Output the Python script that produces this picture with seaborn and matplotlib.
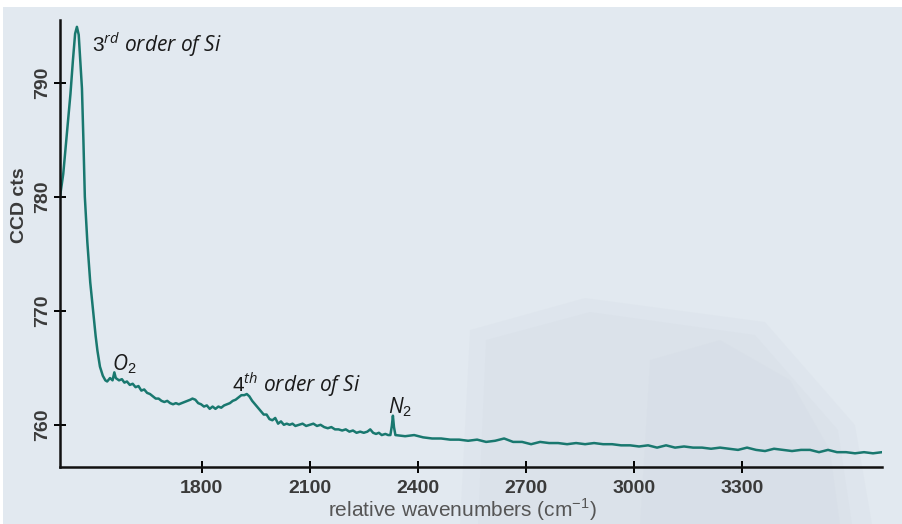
import pandas as pd
import matplotlib
matplotlib.use('Agg')
import matplotlib.pyplot as plt
from matplotlib.patches import Rectangle, Polygon
import seaborn as sns

# spectrum (relative wavenumber, CCD counts)
WAVENUMBERS = [
  1406, 1415, 1425, 1435, 1442, 1448, 1453, 1458, 1463, 1467, 1471, 1475,
  1482, 1490, 1498, 1505, 1510, 1517, 1525, 1532, 1537, 1545, 1552, 1557,
  1561, 1570, 1578, 1585, 1592, 1600, 1608, 1616, 1624, 1632, 1640, 1648,
  1656, 1664, 1672, 1680, 1688, 1696, 1704, 1712, 1720, 1728, 1736, 1744,
  1752, 1760, 1768, 1774, 1782, 1790, 1798, 1806, 1814, 1822, 1830, 1838,
  1846, 1854, 1862, 1870, 1878, 1886, 1894, 1902, 1910, 1918, 1925, 1932,
  1940, 1948, 1956, 1964, 1972, 1980, 1988, 1996, 2004, 2012, 2020, 2028,
  2036, 2044, 2052, 2060, 2070, 2080, 2090, 2100, 2110, 2120, 2130, 2140,
  2150, 2160, 2170, 2180, 2190, 2200, 2210, 2220, 2230, 2240, 2250, 2260,
  2268, 2276, 2284, 2292, 2300, 2310, 2318, 2324, 2328, 2331, 2334, 2338,
  2365, 2390, 2415, 2440, 2465, 2490, 2515, 2540, 2565, 2590, 2615, 2640,
  2665, 2690, 2715, 2740, 2765, 2790, 2815, 2840, 2865, 2890, 2915, 2940,
  2965, 2990, 3015, 3040, 3065, 3090, 3115, 3140, 3165, 3190, 3215, 3240,
  3265, 3290, 3315, 3340, 3365, 3390, 3415, 3440, 3465, 3490, 3515, 3540,
  3565, 3590, 3615, 3640, 3665, 3690,
]
COUNTS = [
  780.0, 782.0, 785.5, 789.0, 792.0, 794.3, 794.9, 794.2, 791.5, 789.5, 785.0, 780.0,
  776.0, 772.5, 770.0, 767.8, 766.5, 765.1, 764.3, 763.9, 763.8, 764.1, 763.9, 764.6,
  764.1, 763.9, 764.0, 763.7, 763.8, 763.5, 763.6, 763.3, 763.4, 763.0, 763.1, 762.8,
  762.7, 762.5, 762.3, 762.3, 762.1, 762.0, 762.1, 761.9, 761.8, 761.9, 761.8, 761.9,
  762.0, 762.1, 762.2, 762.3, 762.2, 761.9, 761.8, 761.6, 761.7, 761.4, 761.6, 761.4,
  761.6, 761.5, 761.7, 761.8, 761.9, 762.1, 762.2, 762.4, 762.6, 762.6, 762.7, 762.5,
  762.1, 761.8, 761.5, 761.2, 760.9, 760.9, 760.5, 760.4, 760.6, 760.1, 760.3, 760.0,
  760.1, 760.0, 760.1, 759.9, 760.0, 760.1, 759.9, 760.0, 760.1, 759.9, 760.0, 759.8,
  759.7, 759.8, 759.6, 759.6, 759.5, 759.6, 759.4, 759.5, 759.3, 759.4, 759.3, 759.4,
  759.6, 759.3, 759.2, 759.3, 759.1, 759.2, 759.1, 759.1, 759.9, 760.8, 759.8, 759.1,
  759.0, 759.1, 758.9, 758.8, 758.8, 758.7, 758.7, 758.6, 758.7, 758.5, 758.6, 758.8,
  758.5, 758.5, 758.3, 758.5, 758.4, 758.4, 758.3, 758.4, 758.3, 758.4, 758.3, 758.3,
  758.2, 758.2, 758.1, 758.2, 758.0, 758.2, 758.0, 758.1, 758.0, 758.0, 757.9, 758.0,
  757.9, 757.8, 758.0, 757.8, 757.7, 757.9, 757.8, 757.7, 757.8, 757.8, 757.6, 757.8,
  757.6, 757.6, 757.5, 757.6, 757.5, 757.6,
]

X_TICKS = [1800, 2100, 2400, 2700, 3000, 3300]
Y_TICKS = [760, 770, 780, 790]

# peak labels: (text, wavenumber, counts)
PEAK_LABELS = [
  (r'$\mathit{3}^{\mathit{rd}}$ order of Si', 1495, 792.7),
  (r'O$_{\mathit{2}}$', 1550, 764.8),
  (r'$\mathit{4}^{\mathit{th}}$ order of Si', 1884, 762.9),
  (r'N$_{\mathit{2}}$', 2317, 761.0),
]

LINE_COLOR = '#19786f'
BG_COLOR = '#e2e9f0'
TEXT_COLOR = '#3a3a3a'

sns.set_style('ticks')
plt.rcParams['font.family'] = ['Liberation Sans', 'DejaVu Sans']
plt.rcParams['mathtext.fontset'] = 'custom'
plt.rcParams['mathtext.rm'] = 'Liberation Sans'
plt.rcParams['mathtext.it'] = 'Open Sans:italic'

df = pd.DataFrame({'wavenumber': WAVENUMBERS, 'counts': COUNTS})

fig = plt.figure(figsize=(9.02, 5.24), dpi=100, facecolor='white')

# light panel behind the chart with a faint, soft instrument silhouette
fig.patches.append(Rectangle((3 / 902, 0), 1, 1 - 7 / 524, transform=fig.transFigure,
                             facecolor=BG_COLOR, edgecolor='none', zorder=-10))
silhouettes = [
  [(460, 524), (470, 330), (585, 298), (765, 322), (855, 425), (872, 524)],
  [(478, 524), (486, 340), (590, 312), (755, 335), (838, 430), (852, 524)],
  [(640, 524), (650, 360), (720, 340), (790, 380), (830, 450), (840, 524)],
]
for shape in silhouettes:
  fig.patches.append(Polygon([(x / 902, 1 - y / 524) for x, y in shape], closed=True,
                             transform=fig.transFigure, facecolor='#cdd5de', alpha=0.16,
                             edgecolor='none', zorder=-9))

ax = fig.add_axes([60 / 902, 1 - 467 / 524, 822 / 902, 447 / 524])
ax.patch.set_alpha(0)

sns.lineplot(data=df, x='wavenumber', y='counts', ax=ax, color=LINE_COLOR, lw=1.8)

ax.set_xlim(1406, 3690)
ax.set_ylim(756.3, 795.5)
ax.set_xticks(X_TICKS)
ax.set_yticks(Y_TICKS)
ax.tick_params(axis='both', direction='inout', length=9, width=1.4, color='black',
               labelsize=14, labelcolor=TEXT_COLOR)
ax.tick_params(axis='x', pad=5)
ax.tick_params(axis='y', pad=2)
for lbl in ax.get_xticklabels() + ax.get_yticklabels():
  lbl.set_fontweight('bold')
for lbl in ax.get_yticklabels():
  lbl.set_rotation(90)
  lbl.set_va('center')

sns.despine(ax=ax)
for side in ('left', 'bottom'):
  ax.spines[side].set_linewidth(1.8)
  ax.spines[side].set_color('#111111')

ax.set_xlabel('relative wavenumbers (cm$^{-1}$)', fontsize=15, color='#555555')
ax.set_ylabel('CCD cts', fontsize=14, color=TEXT_COLOR, fontweight='bold')
ax.xaxis.set_label_coords(0.49, -0.066)
ax.yaxis.set_label_coords(-0.039, 0.586)

for text, x, y in PEAK_LABELS:
  ax.text(x, y, text, fontsize=15, family='Open Sans', style='italic',
          color='#1a1a1a', ha='left', va='baseline')

fig.savefig('out.png', dpi=100, facecolor=fig.get_facecolor())
